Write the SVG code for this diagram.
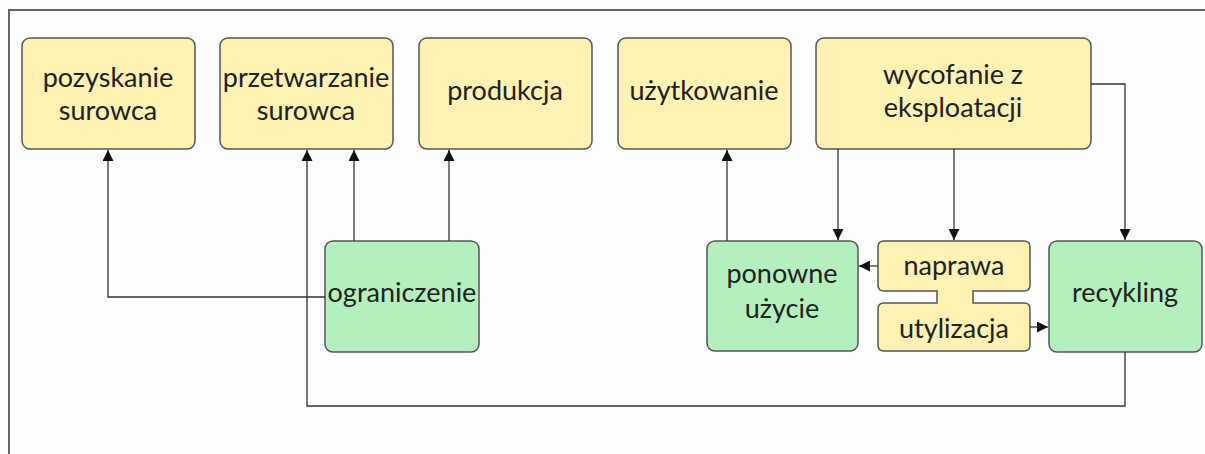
<svg xmlns="http://www.w3.org/2000/svg" width="1205" height="454" viewBox="0 0 1205 454">
<defs>
<style>
.y{fill:#fdf1b3;stroke:#555;stroke-width:1.5}
.g{fill:#b4f0bd;stroke:#555;stroke-width:1.5}
.t{font-family:Lato,"Open Sans","Liberation Sans",sans-serif;font-size:27px;fill:#222;text-anchor:middle}
.c{fill:none;stroke:#333;stroke-width:1.3}
</style>
<marker id="a" viewBox="0 0 10 10" refX="10" refY="5" markerWidth="11" markerHeight="11" markerUnits="userSpaceOnUse" orient="auto"><path d="M0,0 L10,5 L0,10 z" fill="#111"/></marker>
</defs>
<rect width="1205" height="454" fill="#fdfdfd"/>
<path d="M9,454 V10 H1205" fill="none" stroke="#666" stroke-width="2"/>
<g id="pozyskanie"><rect class="y" x="22" y="38" width="173" height="111" rx="8"/><text class="t" x="108" y="87">pozyskanie</text><text class="t" x="108" y="120">surowca</text></g>
<g id="przetwarzanie"><rect class="y" x="220" y="38" width="173" height="111" rx="8"/><text class="t" x="306" y="87">przetwarzanie</text><text class="t" x="306" y="120">surowca</text></g>
<g id="produkcja"><rect class="y" x="419" y="38" width="173" height="111" rx="8"/><text class="t" x="505" y="100">produkcja</text></g>
<g id="uzytkowanie"><rect class="y" x="618" y="38" width="173" height="111" rx="8"/><text class="t" x="704" y="100">użytkowanie</text></g>
<g id="wycofanie"><rect class="y" x="816" y="38" width="275" height="111" rx="8"/><text class="t" x="953" y="84">wycofanie z</text><text class="t" x="953" y="117">eksploatacji</text></g>
<g id="ograniczenie"><rect class="g" x="325" y="241" width="154" height="111" rx="8"/><text class="t" x="402" y="302">ograniczenie</text></g>
<g id="ponowne"><rect class="g" x="707" y="241" width="151" height="110" rx="8"/><text class="t" x="782" y="283">ponowne</text><text class="t" x="782" y="318">użycie</text></g>
<g id="naprawa-utylizacja"><path class="y" d="M884,241 H1024 Q1030,241 1030,247 V285 Q1030,291 1024,291 H973 V303 H1024 Q1030,303 1030,309 V345 Q1030,351 1024,351 H884 Q878,351 878,345 V309 Q878,303 884,303 H937 V291 H884 Q878,291 878,285 V247 Q878,241 884,241 Z"/><text class="t" x="954" y="275">naprawa</text><text class="t" x="954" y="338">utylizacja</text></g>
<g id="recykling"><rect class="g" x="1049" y="241" width="153" height="111" rx="8"/><text class="t" x="1125" y="302">recykling</text></g>
<g id="connectors">
<path class="c" d="M325,297 H108 V150" marker-end="url(#a)"/>
<path class="c" d="M354,241 V150" marker-end="url(#a)"/>
<path class="c" d="M449,241 V150" marker-end="url(#a)"/>
<path class="c" d="M1125,352 V406 H307 V150" marker-end="url(#a)"/>
<path class="c" d="M727,241 V150" marker-end="url(#a)"/>
<path class="c" d="M838,149 V240" marker-end="url(#a)"/>
<path class="c" d="M954,149 V240" marker-end="url(#a)"/>
<path class="c" d="M1091,84 H1125 V240" marker-end="url(#a)"/>
<path class="c" d="M878,266 H859" marker-end="url(#a)"/>
<path class="c" d="M1030,327 H1048" marker-end="url(#a)"/>
</g>
</svg>
